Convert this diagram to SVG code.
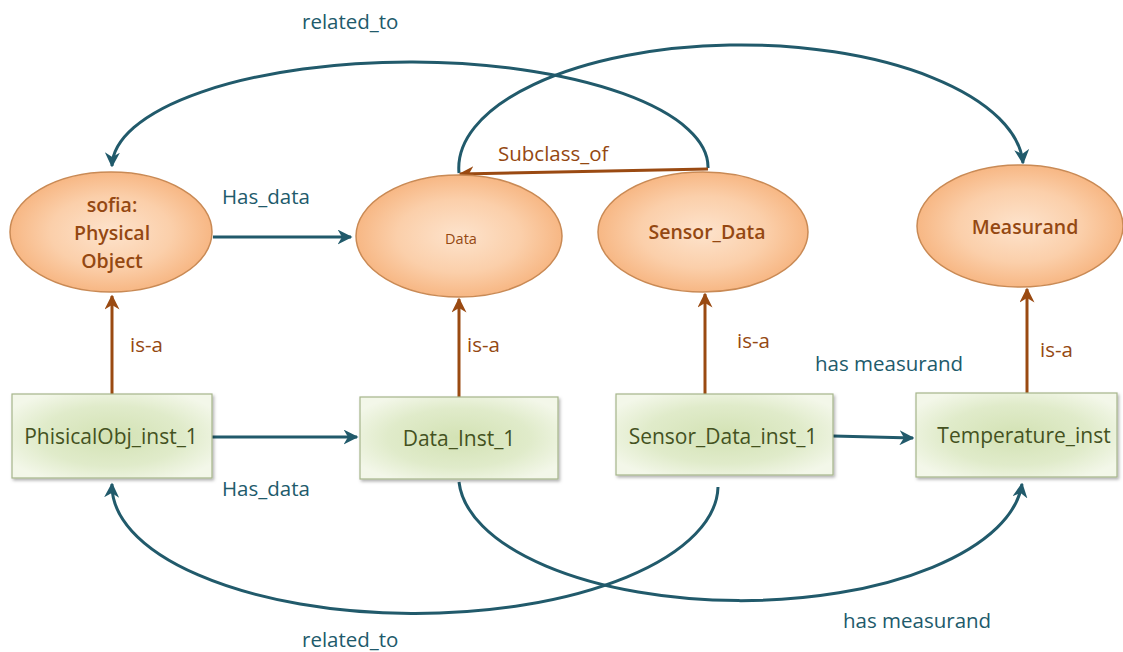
<svg xmlns="http://www.w3.org/2000/svg" width="1123" height="652" viewBox="0 0 1123 652">
<defs>
<radialGradient id="gEll" cx="50%" cy="50%" r="50%">
<stop offset="0" stop-color="#fde3cc"/>
<stop offset="0.6" stop-color="#fbcfaa"/>
<stop offset="1" stop-color="#f7b784"/>
</radialGradient>
<radialGradient id="gBox" cx="50%" cy="50%" r="60%">
<stop offset="0" stop-color="#d3e2b4"/>
<stop offset="0.6" stop-color="#e0ebca"/>
<stop offset="1" stop-color="#f3f7e9"/>
</radialGradient>
<filter id="sh" x="-10%" y="-10%" width="125%" height="130%">
<feDropShadow dx="1.5" dy="2" stdDeviation="1.5" flood-color="#000" flood-opacity="0.3"/>
</filter>
<marker id="aT" viewBox="0 0 10 10" refX="9" refY="5" markerWidth="5" markerHeight="5" orient="auto" markerUnits="strokeWidth">
<path d="M0,0 L10,5 L0,10 L3,5 z" fill="#215a6b"/>
</marker>
<marker id="aB" viewBox="0 0 10 10" refX="9" refY="5" markerWidth="5" markerHeight="5" orient="auto" markerUnits="strokeWidth">
<path d="M0,0 L10,5 L0,10 L3,5 z" fill="#9a4a12"/>
</marker>
</defs>
<style>
.ell{fill:url(#gEll);stroke:#c98a55;stroke-width:1.5}
.box{fill:url(#gBox);stroke:#a6b58a;stroke-width:1.2;filter:url(#sh)}
.et{font-family:"Open Sans",Lato,sans-serif;font-size:19.5px;font-weight:600;fill:#944812;text-anchor:middle}
.bt{font-family:"Open Sans",Lato,sans-serif;font-size:21px;fill:#44521f;text-anchor:middle}
.lt{font-family:"Open Sans",Lato,sans-serif;font-size:20.5px;fill:#215a6b}
.lb{font-family:"Open Sans",Lato,sans-serif;font-size:20.5px;fill:#944812}
.ct{fill:none;stroke:#215a6b;stroke-width:3;marker-end:url(#aT)}
.cb{fill:none;stroke:#9a4a12;stroke-width:3;marker-end:url(#aB)}
</style>
<g id="connectors">
<path class="ct" d="M708,168 A298,105 0 0 0 112,166"/>
<path class="ct" d="M459,173 A282,123 0 0 1 1023,163"/>
<path class="ct" d="M718,487 A303,128 0 0 1 112,484"/>
<path class="ct" d="M459,482 A282,125 0 0 0 1022,484"/>
<path class="ct" d="M213,237 L351,237"/>
<path class="ct" d="M212,437 L357,437"/>
<path class="ct" d="M833,436 L913,438"/>
<path class="cb" d="M708,169 L460,174"/>
<path class="cb" d="M112,395 L112,296"/>
<path class="cb" d="M459,398 L459,299"/>
<path class="cb" d="M705,395 L705,294"/>
<path class="cb" d="M1027,393 L1027,289"/>
<text class="lt" x="302" y="29">related_to</text>
<text class="lt" x="302" y="647">related_to</text>
<text class="lt" x="222" y="204">Has_data</text>
<text class="lt" x="222" y="496">Has_data</text>
<text class="lt" x="815" y="371">has measurand</text>
<text class="lt" x="843" y="628">has measurand</text>
<text class="lb" x="498" y="161">Subclass_of</text>
<text class="lb" x="130" y="352">is-a</text>
<text class="lb" x="467" y="352">is-a</text>
<text class="lb" x="737" y="348">is-a</text>
<text class="lb" x="1040" y="357">is-a</text>
</g>
<g id="n-physobj">
<ellipse class="ell" cx="111" cy="232" rx="101" ry="60"/>
<text class="et" x="112" y="212">sofia:</text>
<text class="et" x="112" y="240">Physical</text>
<text class="et" x="112" y="268">Object</text>
</g>
<g id="n-data">
<ellipse class="ell" cx="459" cy="236" rx="103" ry="61"/>
<text class="et" x="461" y="244" style="font-size:14.5px;font-weight:400">Data</text>
</g>
<g id="n-sensordata">
<ellipse class="ell" cx="703" cy="232" rx="105" ry="60"/>
<text class="et" x="707" y="239">Sensor_Data</text>
</g>
<g id="n-measurand">
<ellipse class="ell" cx="1020" cy="226" rx="103" ry="61"/>
<text class="et" x="1025" y="234">Measurand</text>
</g>
<g id="n-physinst">
<rect class="box" x="12" y="394" width="200" height="84"/>
<text class="bt" x="111" y="444">PhisicalObj_inst_1</text>
</g>
<g id="n-datainst">
<rect class="box" x="360" y="397" width="198" height="82"/>
<text class="bt" x="459" y="446">Data_Inst_1</text>
</g>
<g id="n-sensorinst">
<rect class="box" x="616" y="394" width="217" height="81"/>
<text class="bt" x="723" y="444">Sensor_Data_inst_1</text>
</g>
<g id="n-tempinst">
<rect class="box" x="916" y="393" width="201" height="84"/>
<text class="bt" x="1024" y="443">Temperature_inst</text>
</g>
</svg>
